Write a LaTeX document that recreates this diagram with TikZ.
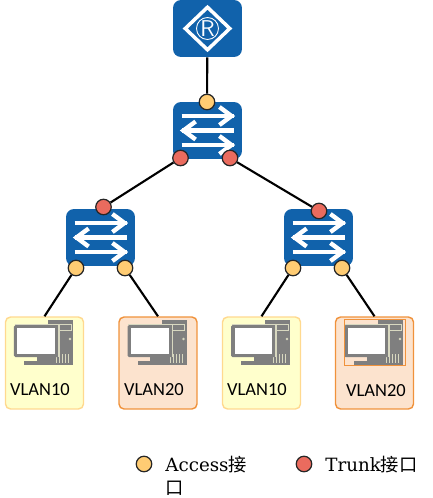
\documentclass[tikz,border=0pt]{standalone}
\usepackage{fontspec}
\setmainfont{Carlito}
\newfontfamily\legendfont{DejaVu Serif}
\newfontfamily\cjk{Noto Sans CJK SC}
\usepackage{tikz}
\usetikzlibrary{arrows.meta,positioning,calc,shapes.geometric}
\usepackage{xcolor}
\definecolor{devblue}{HTML}{1162AB}
\definecolor{accessport}{HTML}{FFCC73}
\definecolor{trunkport}{HTML}{EA6B5E}
\definecolor{vlanyellow}{HTML}{FFFFCC}
\definecolor{yellowborder}{HTML}{FFD98F}
\definecolor{vlanorange}{HTML}{FCE3CE}
\definecolor{orangeborder}{HTML}{F0923B}
\definecolor{pcgray}{HTML}{7F7F7F}
\definecolor{pcpale}{HTML}{D8D8C0}

\begin{document}
\begin{tikzpicture}[
 x=0.02cm,y=-0.02cm,
 device/.style={fill=devblue,rounded corners=1.6mm,minimum width=1.38cm,minimum height=1.14cm,inner sep=0pt},
 access/.style={draw=black!85,fill=accessport,circle,minimum size=0.31cm,inner sep=0pt,line width=0.7pt},
 trunk/.style={draw=black!85,fill=trunkport,circle,minimum size=0.31cm,inner sep=0pt,line width=0.7pt},
 yellowhost/.style={draw=yellowborder,fill=vlanyellow,line width=0.8pt,rounded corners=1mm,minimum width=1.56cm,minimum height=1.84cm,inner sep=0pt},
 orangehost/.style={draw=orangeborder,fill=vlanorange,line width=0.8pt,rounded corners=1mm,minimum width=1.56cm,minimum height=1.84cm,inner sep=0pt},
 vlan/.style={font=\fontsize{10.5}{12}\selectfont,inner sep=0pt},
 legend/.style={font=\legendfont\fontsize{10.4}{13}\selectfont,inner sep=0pt,align=left,anchor=north west},
 link/.style={line width=1.2pt,draw=black},
 swicon/.pic={
  \foreach \y/\a/\b/\c in {-14.5/-26/26/24,0/26/-26/-24,14.5/-26/26/24}{
   \draw[white,line width=2.3pt] (\a,\y)--(\b,\y);
   \draw[white,line width=2.5pt] ({\c-(\b-\a)/4.3},\y-9)--(\c,\y)--({\c-(\b-\a)/4.3},\y+9);
  }
 },
 pcicon/.pic={
  % tower behind the screen
  \fill[pcgray] (3.5,-43) rectangle (28.5,2);
  \draw[pcpale,line width=0.5pt] (14.5,-39) rectangle (26.5,-33);
  \fill[pcpale] (25.5,-24) circle (1.4);
  \foreach \x in {12,15,18,21,24} \draw[pcpale,line width=0.4pt] (\x,-9)--(\x,0);
  % monitor
  \fill[pcgray,rounded corners=0.3mm] (-30.5,-38) rectangle (14,-6);
  \draw[pcpale,line width=0.6pt] (-30,-38.5)--(14.5,-38.5)--(14.5,-6);
  \fill[white] (-27,-35) rectangle (10.5,-9);
  \fill[pcgray] (-8,-6) rectangle (3.5,-2);
  \fill[pcgray] (-20.5,-2) rectangle (3.5,2);
 }
]
\useasboundingbox (0,0) rectangle (433,498);

\node[device] (router) at (207.5,28.5) {};
\node[draw=white,line width=2pt,diamond,minimum width=0.92cm,minimum height=0.88cm,inner sep=0pt] (rmark) at (router.center) {};
\node[draw=white,line width=0.5pt,circle,minimum size=0.44cm,inner sep=0pt,text=white,font=\sffamily\fontsize{13}{13}\selectfont] (rname) at (router.center) {R};

\node[device] (core) at (207.5,130.5) {};
\pic at (core.center) {swicon};
\node[device] (swl) at (100.5,237.5) {};
\pic at (swl.center) {swicon};
\node[device] (swr) at (318.5,237.5) {};
\pic at (swr.center) {swicon};

\node[access] (p0) at (207,102) {};
\node[trunk] (p1) at (180.5,158) {};
\node[trunk] (p2) at (230,158) {};
\node[trunk] (p3) at (103.5,207) {};
\node[trunk] (p4) at (319,211) {};
\node[access] (p5) at (76,268) {};
\node[access] (p6) at (125,268) {};
\node[access] (p7) at (293,268) {};
\node[access] (p8) at (342,268) {};

\node[yellowhost] (h1) at (44.5,363) {};
\node[orangehost] (h2) at (158,363) {};
\node[yellowhost] (h3) at (261.5,363) {};
\node[orangehost] (h4) at (374.5,363) {};
\pic at (h1.center) {pcicon};
\pic at (h2.center) {pcicon};
\pic at (h3.center) {pcicon};
\pic at (h4.center) {pcicon};
\node[draw=orangeborder,line width=0.5pt,minimum width=1.22cm,minimum height=0.92cm,inner sep=0pt] (h4mark) at (374.5,342) {};

\node[vlan] (t1) at (40,390) {VLAN10};
\node[vlan] (t2) at (154,390) {VLAN20};
\node[vlan] (t3) at (257,390) {VLAN10};
\node[vlan] (t4) at (376,391) {VLAN20};

\draw[link] (router)--(p0);
\draw[link] (p1)--(p3);
\draw[link] (p2)--(p4);
\draw[link] (p5)--(h1.north);
\draw[link] (p6)--(h2.north);
\draw[link] (p7)--(h3.north);
\draw[link] (p8)--(h4.north);

\node[access] (key1) at (144,464) {};
\node[legend] (key1t) at (165,455.5) {Access{\cjk 接}\\{\cjk 口}};
\node[trunk] (key2) at (304,464) {};
\node[legend] (key2t) at (325,455.5) {Trunk{\cjk 接口}};
\end{tikzpicture}
\end{document}
